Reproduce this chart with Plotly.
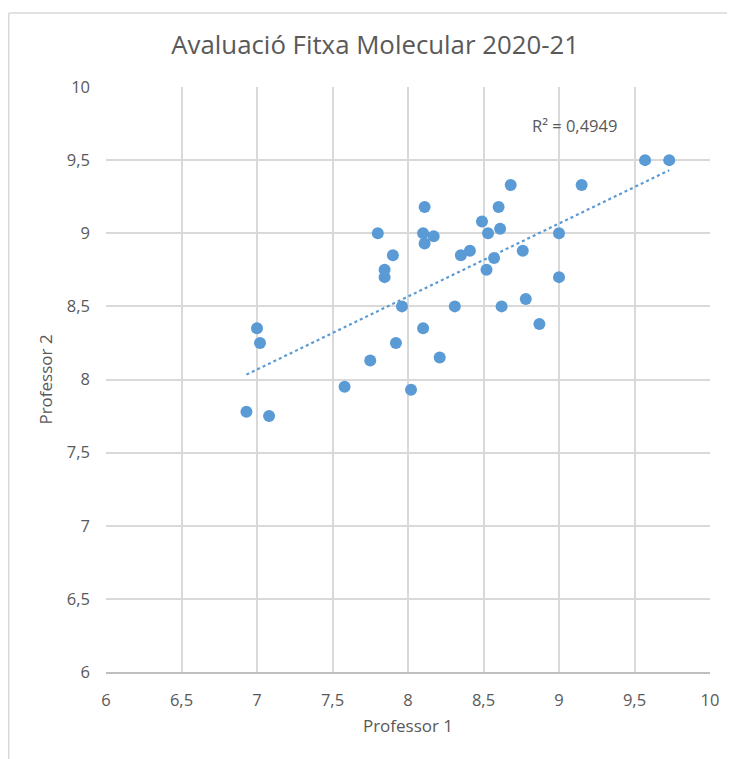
import numpy as np
import plotly.graph_objects as go

# Data
professor1 = [6.93, 7.08, 7.00, 7.02, 7.58, 7.75, 7.80, 7.90, 7.845, 7.845,
              7.92, 7.96, 8.02, 8.11, 8.10, 8.17, 8.11, 8.10, 8.21,
              9.57, 9.73, 8.68, 9.15, 8.60, 8.49, 8.53, 8.61, 9.00, 8.35,
              8.41, 8.76, 8.57, 8.52, 9.00, 8.31, 8.62, 8.78, 8.87]
professor2 = [7.78, 7.75, 8.35, 8.25, 7.95, 8.13, 9.00, 8.85, 8.75, 8.70,
              8.25, 8.50, 7.93, 9.18, 9.00, 8.98, 8.93, 8.35, 8.15,
              9.50, 9.50, 9.33, 9.33, 9.18, 9.08, 9.00, 9.03, 9.00, 8.85,
              8.88, 8.88, 8.83, 8.75, 8.70, 8.50, 8.50, 8.55, 8.38]

tick_vals = [6, 6.5, 7, 7.5, 8, 8.5, 9, 9.5, 10]
tick_text = ["6", "6,5", "7", "7,5", "8", "8,5", "9", "9,5", "10"]
r2_label = "R² = 0,4949"
title_text = "Avaluació Fitxa Molecular 2020-21"

x = np.array(professor1)
y = np.array(professor2)
slope, intercept = np.polyfit(x, y, 1)
tx = np.array([x.min(), x.max()])
ty = slope * tx + intercept

blue = "#5b9bd5"
grid = "#d9d9d9"
txt = "#595959"
font = "Open Sans"

fig = go.Figure()
fig.add_trace(go.Scatter(x=tx, y=ty, mode="lines",
                         line=dict(color=blue, width=2.2, dash="dot"),
                         hoverinfo="skip", showlegend=False))
fig.add_trace(go.Scatter(x=professor1, y=professor2, mode="markers",
                         marker=dict(color=blue, size=12, line=dict(width=0)),
                         showlegend=False))

fig.add_annotation(x=9.1, y=9.74, xref="x", yref="y", text=r2_label,
                   showarrow=False, font=dict(family=font, size=16.5, color=txt))

# outer chart border (top and left visible)
fig.add_shape(type="line", xref="paper", yref="paper",
              x0=-0.161, x1=1.2, y0=1.1265, y1=1.1265,
              line=dict(color=grid, width=1.5))
fig.add_shape(type="line", xref="paper", yref="paper",
              x0=-0.161, x1=-0.161, y0=1.1265, y1=-0.2,
              line=dict(color=grid, width=1.5))

fig.update_layout(
    width=727, height=751,
    margin=dict(l=98, r=25, t=79, b=87),
    paper_bgcolor="white", plot_bgcolor="white",
    separators=", ",
    title=dict(text=title_text, x=0.505, xanchor="center", y=0.951, yanchor="middle",
               font=dict(family=font, size=25.8, color=txt)),
    xaxis=dict(range=[6, 10], tickvals=tick_vals, ticktext=tick_text,
               showgrid=True, gridcolor=grid, gridwidth=1.5,
               showline=True, linecolor="#bfbfbf", linewidth=1.5,
               zeroline=False, ticks="", ticklabelstandoff=12,
               tickfont=dict(family=font, size=16.5, color=txt),
               title=dict(text="Professor 1", standoff=11,
                          font=dict(family=font, size=17, color=txt))),
    yaxis=dict(range=[6, 10], tickvals=tick_vals, ticktext=tick_text,
               showgrid=True, gridcolor=grid, gridwidth=1.5,
               showline=False, zeroline=False, ticks="", ticklabelstandoff=15,
               tickfont=dict(family=font, size=16.5, color=txt),
               title=dict(text="Professor 2", standoff=9,
                          font=dict(family=font, size=17, color=txt))),
)

fig.write_html("out.html")
